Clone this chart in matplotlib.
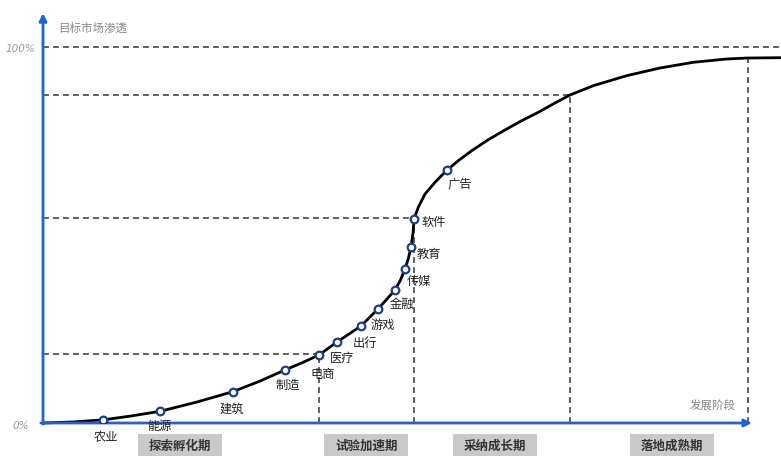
import matplotlib
matplotlib.use("Agg")
import matplotlib.pyplot as plt
from matplotlib.patches import Rectangle

plt.rcParams['font.family'] = ['Noto Sans CJK SC', 'DejaVu Sans']

# ---- data ----
industries = ['农业', '能源', '建筑', '制造', '电商', '医疗', '出行', '游戏',
              '金融', '传媒', '教育', '软件', '广告']
ind_x = [8.53, 16.50, 26.76, 34.13, 38.93, 41.47, 44.85, 47.25,
         49.65, 51.06, 51.90, 52.33, 56.94]
ind_y = [0.85, 3.11, 8.32, 14.10, 18.09, 21.54, 25.80, 30.32,
         35.37, 40.96, 46.81, 54.26, 67.21]

curve_x = [0, 4.23, 8.53, 12.41, 16.50, 21.58, 26.76, 30.47, 34.13, 36.53,
           38.93, 41.47, 44.85, 47.25, 49.65, 50.42, 51.06, 51.55, 51.90,
           52.19, 52.33, 52.93, 53.88, 55.29, 56.94, 58.58, 60.46, 62.81,
           65.16, 67.52, 69.86, 72.21, 74.33, 77.62, 82.33, 87.02, 91.72,
           96.43, 99.39, 104.09]
curve_y = [0, 0.27, 0.85, 1.86, 3.11, 5.51, 8.32, 11.04, 14.10, 16.01,
           18.09, 21.54, 25.80, 30.32, 35.37, 38.03, 40.96, 43.88, 46.81,
           50.53, 54.26, 57.37, 60.90, 64.02, 67.21, 69.76, 72.42, 75.35,
           77.93, 80.40, 82.63, 85.11, 87.23, 89.71, 92.37, 94.41, 95.93,
           96.81, 97.07, 97.15]

# reference (stage boundary) points on the curve
ref_x = [38.93, 52.33, 74.33]
ref_y = [18.35, 54.5, 87.2]
mature_x = 99.44
mature_top = 96.8

stages = ['探索孵化期', '试验加速期', '采纳成长期', '落地成熟期']
stage_x = [19.3, 45.6, 63.8, 88.7]

y_ticks = [0, 100]
y_tick_labels = ['0%', '100%']

# label offsets (points) relative to markers
label_off = [(1.5, -12), (0, -10.5), (-1, -12), (2, -10.5), (3, -13),
             (3.5, -11), (3, -11.5), (3.5, -11), (5, -10), (10, -8.5),
             (13, -5), (14.5, -1.5), (9.5, -9.5)]

# ---- figure ----
W, H = 781, 464
fig = plt.figure(figsize=(W / 100, H / 100), dpi=100)
ax = fig.add_axes([43 / W, 40 / H, 738 / W, 410 / H])
ax.set_xlim(0, 104.09)
ax.set_ylim(0, 109.04)
ax.axis('off')

blue = '#1f63d6'
dash_col = '#444444'
dash = (0, (3.5, 2.5))

# dashed guide lines
ax.plot([0, 104.09], [100, 100], color=dash_col, lw=1.2, linestyle=dash, clip_on=False)
for rx, ry in zip(ref_x, ref_y):
    ax.plot([0, rx], [ry, ry], color=dash_col, lw=1.2, linestyle=dash)
    ax.plot([rx, rx], [0, ry], color=dash_col, lw=1.2, linestyle=dash)
ax.plot([mature_x, mature_x], [0, mature_top], color=dash_col, lw=1.2, linestyle=dash)

# curve
ax.plot(curve_x, curve_y, color='black', lw=2.0, solid_joinstyle='round',
        solid_capstyle='round', clip_on=False, zorder=3)
ax.plot(ind_x, ind_y, linestyle='none', marker='o', markersize=5.5,
        markerfacecolor='white', markeredgecolor='#1a3f8a', markeredgewidth=1.6,
        zorder=4)

for name, x, y, off in zip(industries, ind_x, ind_y, label_off):
    ax.annotate(name, (x, y), xytext=off, textcoords='offset points',
                ha='center', va='center', fontsize=8.8, color='#222222',
                fontweight='medium', zorder=5)

# axes arrows
ax.annotate('', xy=(0, 109.0), xytext=(0, -0.3),
            arrowprops=dict(arrowstyle='-|>', color=blue, lw=2, mutation_scale=11,
                            shrinkA=0, shrinkB=0), annotation_clip=False)
ax.annotate('', xy=(100, 0), xytext=(-0.3, 0),
            arrowprops=dict(arrowstyle='-|>', color=blue, lw=2, mutation_scale=11,
                            shrinkA=0, shrinkB=0), annotation_clip=False)

# axis texts
for t, lab in zip(y_ticks, y_tick_labels):
    ax.text(-3.2, t - 0.4, lab, ha='center', va='center', fontsize=7.5,
            color='#9a9a9a', style='italic', family='DejaVu Sans', clip_on=False)
ax.text(2.1, 105.3, '目标市场渗透', ha='left', va='center', fontsize=8.3,
        color='#888888', clip_on=False)
ax.text(97.7, 5.0, '发展阶段', ha='right', va='center', fontsize=8.3,
        color='#888888', clip_on=False)

# stage boxes
bw, bh = 11.85, 5.85
for name, sx in zip(stages, stage_x):
    ax.add_patch(Rectangle((sx - bw / 2, -8.8), bw, bh, facecolor='#c9c9c9',
                           edgecolor='none', clip_on=False))
    ax.text(sx, -8.8 + bh / 2, name, ha='center', va='center', fontsize=9,
            fontweight='bold', color='#333333', clip_on=False)

fig.savefig('out.png', dpi=100, facecolor='white')
